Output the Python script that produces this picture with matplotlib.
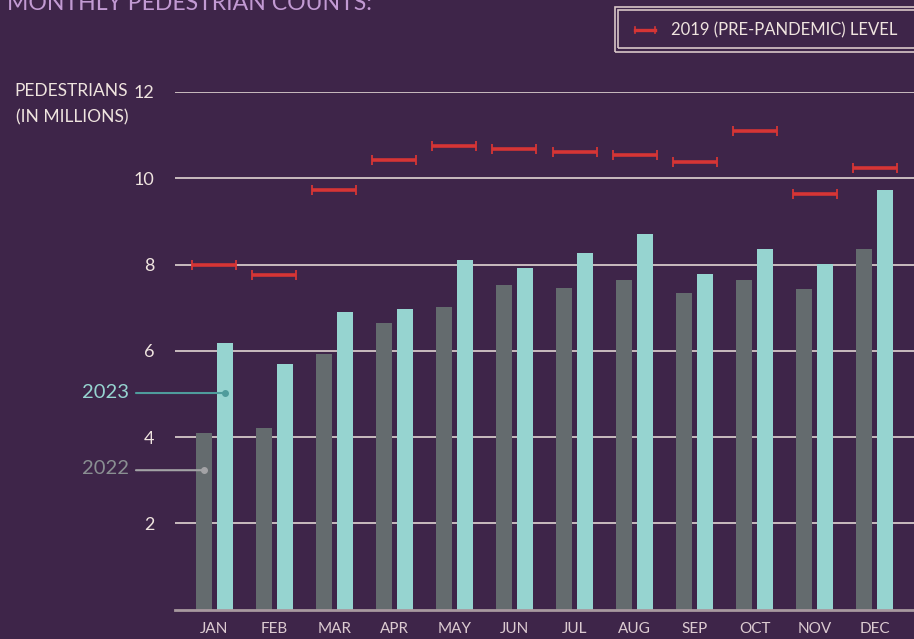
"""Monthly pedestrian counts 2022 vs 2023, with 2019 level markers."""
import numpy as np
import matplotlib
matplotlib.use('Agg')
import matplotlib.pyplot as plt

months = ['JAN', 'FEB', 'MAR', 'APR', 'MAY', 'JUN', 'JUL', 'AUG', 'SEP', 'OCT', 'NOV', 'DEC']
counts_2022 = [4.09, 4.21, 5.92, 6.64, 7.01, 7.52, 7.45, 7.64, 7.33, 7.64, 7.43, 8.35]
counts_2023 = [6.18, 5.69, 6.89, 6.96, 8.10, 7.91, 8.26, 8.70, 7.79, 8.35, 8.01, 9.72]
level_2019 = [8.00, 7.75, 9.72, 10.43, 10.75, 10.68, 10.62, 10.54, 10.37, 11.09, 9.63, 10.24]
yticks = [2, 4, 6, 8, 10, 12]

BG = '#3e2549'
GRAY = '#646b6e'
CYAN = '#96d4d0'
RED = '#d63535'
LIGHT = '#efe4df'
MONTH_C = '#dccbd1'
W, H = 914, 639

plt.rcParams['font.family'] = ['Lato', 'DejaVu Sans']

fig = plt.figure(figsize=(W / 100, H / 100), dpi=100, facecolor=BG)
ax = fig.add_axes([175 / W, 1 - 609.5 / H, (W - 175) / W, (609.5 - 92) / H])
ax.set_facecolor(BG)

x = np.arange(len(months))
bw = 0.266
ax.bar(x - 0.175, counts_2022, bw, color=GRAY, zorder=2)
ax.bar(x + 0.175, counts_2023, bw, color=CYAN, zorder=2)
ax.errorbar(x, level_2019, xerr=0.366, fmt='none', ecolor=RED, elinewidth=2.6,
            capsize=3.5, capthick=1.3, zorder=3)

for yv in yticks:
    ax.axhline(yv, color=LIGHT, lw=1.1, zorder=1)
ax.axhline(0, color='#a8999f', lw=2, zorder=4, clip_on=False)

ax.set_xlim(-0.65, 11.65)
ax.set_ylim(0, 12)
ax.set_xticks(x)
ax.set_xticklabels(months, color=MONTH_C, fontsize=11)
ax.set_yticks(yticks)
ax.set_yticklabels([str(v) for v in yticks], color=LIGHT, fontsize=13)
ax.tick_params(axis='both', length=0)
ax.tick_params(axis='y', pad=15)
ax.tick_params(axis='x', pad=9)
for s in ax.spines.values():
    s.set_visible(False)

# direct labels for the two series
ax.annotate('', xy=(0.175, 5.02), xytext=(-1.30, 5.02),
            arrowprops=dict(arrowstyle='-', color='#4f9c9c', lw=1.5, shrinkA=0, shrinkB=0),
            annotation_clip=False)
ax.plot(0.175, 5.02, 'o', color='#4f9c9c', ms=4, zorder=5)
ax.annotate('', xy=(-0.175, 3.23), xytext=(-1.30, 3.23),
            arrowprops=dict(arrowstyle='-', color='#a3a3a6', lw=1.5, shrinkA=0, shrinkB=0),
            annotation_clip=False)
ax.plot(-0.175, 3.23, 'o', color='#a3a3a6', ms=4, zorder=5)
fig.text(129 / W, 1 - 392 / H, '2023', color=CYAN, fontsize=14.5, ha='right', va='center')
fig.text(129 / W, 1 - 469 / H, '2022', color='#8a8f92', fontsize=14.5, ha='right', va='center')

# axis title
fig.text(128 / W, 1 - 91 / H, 'PEDESTRIANS', color=LIGHT, fontsize=12.5, ha='right', va='center')
fig.text(128 / W, 1 - 117 / H, '(IN MILLIONS)', color=LIGHT, fontsize=12.5, ha='right',
         va='center')

# chart title, cut at top edge as in the source
fig.text(7 / W, 1 - 4 / H, 'MONTHLY PEDESTRIAN COUNTS:', color='#c29ad3', fontsize=16.6,
         ha='left', va='center')

# legend box with double border
for (x0, y0, x1, y1) in [(615, 7, 918, 52), (618, 10, 918, 48)]:
    fig.patches.append(plt.Rectangle((x0 / W, 1 - y1 / H), (x1 - x0) / W, (y1 - y0) / H,
                                     transform=fig.transFigure, fill=False,
                                     edgecolor='#d8c6c8', lw=1.2))
lx0, lx1, ly = 635 / W, 655 / W, 1 - 30 / H
fig.lines.append(plt.Line2D([lx0, lx1], [ly, ly], transform=fig.transFigure, color=RED, lw=2.4))
for lx in (lx0, lx1):
    fig.lines.append(plt.Line2D([lx, lx], [ly - 3 / H, ly + 3 / H], transform=fig.transFigure,
                                color=RED, lw=1.2))
fig.text(671 / W, ly, '2019 (PRE-PANDEMIC) LEVEL', color=LIGHT, fontsize=12, ha='left', va='center')

fig.savefig('out.png', dpi=100, facecolor=BG)
